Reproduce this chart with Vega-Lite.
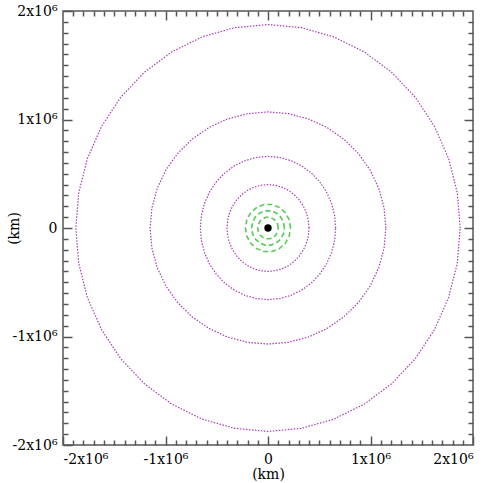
{
  "$schema": "https://vega.github.io/schema/vega-lite/v6.json",
  "width": 410,
  "height": 434,
  "autosize": {"type": "none"},
  "padding": {"left": 63, "top": 11, "right": 18, "bottom": 38},
  "background": "white",
  "config": {
    "font": "DejaVu Serif",
    "view": {"stroke": "#555555", "strokeWidth": 1.5},
    "axis": {
      "domain": false,
      "grid": false,
      "tickColor": "#555555",
      "tickWidth": 1.5,
      "labelColor": "black",
      "labelFont": "DejaVu Serif",
      "labelFontSize": 14,
      "titleFont": "DejaVu Serif",
      "titleFontSize": 14,
      "titleFontWeight": "normal",
      "titleColor": "black"
    }
  },
  "datasets": {
    "outer": [
      {"orbit": "a", "i": 0, "x": 1.875, "y": 0},
      {"orbit": "a", "i": 1, "x": 1.8465, "y": 0.3255},
      {"orbit": "a", "i": 2, "x": 1.7619, "y": 0.6413},
      {"orbit": "a", "i": 3, "x": 1.6238, "y": 0.9375},
      {"orbit": "a", "i": 4, "x": 1.4363, "y": 1.2053},
      {"orbit": "a", "i": 5, "x": 1.2053, "y": 1.4363},
      {"orbit": "a", "i": 6, "x": 0.9375, "y": 1.6238},
      {"orbit": "a", "i": 7, "x": 0.6413, "y": 1.7619},
      {"orbit": "a", "i": 8, "x": 0.3255, "y": 1.8465},
      {"orbit": "a", "i": 9, "x": 0, "y": 1.875},
      {"orbit": "a", "i": 10, "x": -0.3255, "y": 1.8465},
      {"orbit": "a", "i": 11, "x": -0.6413, "y": 1.7619},
      {"orbit": "a", "i": 12, "x": -0.9375, "y": 1.6238},
      {"orbit": "a", "i": 13, "x": -1.2053, "y": 1.4363},
      {"orbit": "a", "i": 14, "x": -1.4363, "y": 1.2053},
      {"orbit": "a", "i": 15, "x": -1.6238, "y": 0.9375},
      {"orbit": "a", "i": 16, "x": -1.7619, "y": 0.6413},
      {"orbit": "a", "i": 17, "x": -1.8465, "y": 0.3255},
      {"orbit": "a", "i": 18, "x": -1.875, "y": 0},
      {"orbit": "a", "i": 19, "x": -1.8465, "y": -0.3255},
      {"orbit": "a", "i": 20, "x": -1.7619, "y": -0.6413},
      {"orbit": "a", "i": 21, "x": -1.6238, "y": -0.9375},
      {"orbit": "a", "i": 22, "x": -1.4363, "y": -1.2053},
      {"orbit": "a", "i": 23, "x": -1.2053, "y": -1.4363},
      {"orbit": "a", "i": 24, "x": -0.9375, "y": -1.6238},
      {"orbit": "a", "i": 25, "x": -0.6413, "y": -1.7619},
      {"orbit": "a", "i": 26, "x": -0.3255, "y": -1.8465},
      {"orbit": "a", "i": 27, "x": 0, "y": -1.875},
      {"orbit": "a", "i": 28, "x": 0.3255, "y": -1.8465},
      {"orbit": "a", "i": 29, "x": 0.6413, "y": -1.7619},
      {"orbit": "a", "i": 30, "x": 0.9375, "y": -1.6238},
      {"orbit": "a", "i": 31, "x": 1.2053, "y": -1.4363},
      {"orbit": "a", "i": 32, "x": 1.4363, "y": -1.2053},
      {"orbit": "a", "i": 33, "x": 1.6238, "y": -0.9375},
      {"orbit": "a", "i": 34, "x": 1.7619, "y": -0.6413},
      {"orbit": "a", "i": 35, "x": 1.8465, "y": -0.3255},
      {"orbit": "a", "i": 36, "x": 1.875, "y": 0},
      {"orbit": "b", "i": 0, "x": 1.15, "y": 0},
      {"orbit": "b", "i": 1, "x": 1.1325, "y": 0.1858},
      {"orbit": "b", "i": 2, "x": 1.0807, "y": 0.3659},
      {"orbit": "b", "i": 3, "x": 0.9959, "y": 0.535},
      {"orbit": "b", "i": 4, "x": 0.8809, "y": 0.6878},
      {"orbit": "b", "i": 5, "x": 0.7392, "y": 0.8196},
      {"orbit": "b", "i": 6, "x": 0.575, "y": 0.9266},
      {"orbit": "b", "i": 7, "x": 0.3933, "y": 1.0055},
      {"orbit": "b", "i": 8, "x": 0.1996, "y": 1.0537},
      {"orbit": "b", "i": 9, "x": 0, "y": 1.07},
      {"orbit": "b", "i": 10, "x": -0.1996, "y": 1.0537},
      {"orbit": "b", "i": 11, "x": -0.3933, "y": 1.0055},
      {"orbit": "b", "i": 12, "x": -0.575, "y": 0.9266},
      {"orbit": "b", "i": 13, "x": -0.7392, "y": 0.8196},
      {"orbit": "b", "i": 14, "x": -0.8809, "y": 0.6878},
      {"orbit": "b", "i": 15, "x": -0.9959, "y": 0.535},
      {"orbit": "b", "i": 16, "x": -1.0807, "y": 0.3659},
      {"orbit": "b", "i": 17, "x": -1.1325, "y": 0.1858},
      {"orbit": "b", "i": 18, "x": -1.15, "y": 0},
      {"orbit": "b", "i": 19, "x": -1.1325, "y": -0.1858},
      {"orbit": "b", "i": 20, "x": -1.0807, "y": -0.3659},
      {"orbit": "b", "i": 21, "x": -0.9959, "y": -0.535},
      {"orbit": "b", "i": 22, "x": -0.8809, "y": -0.6878},
      {"orbit": "b", "i": 23, "x": -0.7392, "y": -0.8196},
      {"orbit": "b", "i": 24, "x": -0.575, "y": -0.9266},
      {"orbit": "b", "i": 25, "x": -0.3933, "y": -1.0055},
      {"orbit": "b", "i": 26, "x": -0.1996, "y": -1.0537},
      {"orbit": "b", "i": 27, "x": 0, "y": -1.07},
      {"orbit": "b", "i": 28, "x": 0.1996, "y": -1.0537},
      {"orbit": "b", "i": 29, "x": 0.3933, "y": -1.0055},
      {"orbit": "b", "i": 30, "x": 0.575, "y": -0.9266},
      {"orbit": "b", "i": 31, "x": 0.7392, "y": -0.8196},
      {"orbit": "b", "i": 32, "x": 0.8809, "y": -0.6878},
      {"orbit": "b", "i": 33, "x": 0.9959, "y": -0.535},
      {"orbit": "b", "i": 34, "x": 1.0807, "y": -0.3659},
      {"orbit": "b", "i": 35, "x": 1.1325, "y": -0.1858},
      {"orbit": "b", "i": 36, "x": 1.15, "y": 0}
    ],
    "inner": [
      {"orbit": "c", "i": 0, "x": 0.66, "y": 0},
      {"orbit": "c", "i": 1, "x": 0.65, "y": 0.1146},
      {"orbit": "c", "i": 2, "x": 0.6202, "y": 0.2257},
      {"orbit": "c", "i": 3, "x": 0.5716, "y": 0.33},
      {"orbit": "c", "i": 4, "x": 0.5056, "y": 0.4242},
      {"orbit": "c", "i": 5, "x": 0.4242, "y": 0.5056},
      {"orbit": "c", "i": 6, "x": 0.33, "y": 0.5716},
      {"orbit": "c", "i": 7, "x": 0.2257, "y": 0.6202},
      {"orbit": "c", "i": 8, "x": 0.1146, "y": 0.65},
      {"orbit": "c", "i": 9, "x": 0, "y": 0.66},
      {"orbit": "c", "i": 10, "x": -0.1146, "y": 0.65},
      {"orbit": "c", "i": 11, "x": -0.2257, "y": 0.6202},
      {"orbit": "c", "i": 12, "x": -0.33, "y": 0.5716},
      {"orbit": "c", "i": 13, "x": -0.4242, "y": 0.5056},
      {"orbit": "c", "i": 14, "x": -0.5056, "y": 0.4242},
      {"orbit": "c", "i": 15, "x": -0.5716, "y": 0.33},
      {"orbit": "c", "i": 16, "x": -0.6202, "y": 0.2257},
      {"orbit": "c", "i": 17, "x": -0.65, "y": 0.1146},
      {"orbit": "c", "i": 18, "x": -0.66, "y": 0},
      {"orbit": "c", "i": 19, "x": -0.65, "y": -0.1146},
      {"orbit": "c", "i": 20, "x": -0.6202, "y": -0.2257},
      {"orbit": "c", "i": 21, "x": -0.5716, "y": -0.33},
      {"orbit": "c", "i": 22, "x": -0.5056, "y": -0.4242},
      {"orbit": "c", "i": 23, "x": -0.4242, "y": -0.5056},
      {"orbit": "c", "i": 24, "x": -0.33, "y": -0.5716},
      {"orbit": "c", "i": 25, "x": -0.2257, "y": -0.6202},
      {"orbit": "c", "i": 26, "x": -0.1146, "y": -0.65},
      {"orbit": "c", "i": 27, "x": 0, "y": -0.66},
      {"orbit": "c", "i": 28, "x": 0.1146, "y": -0.65},
      {"orbit": "c", "i": 29, "x": 0.2257, "y": -0.6202},
      {"orbit": "c", "i": 30, "x": 0.33, "y": -0.5716},
      {"orbit": "c", "i": 31, "x": 0.4242, "y": -0.5056},
      {"orbit": "c", "i": 32, "x": 0.5056, "y": -0.4242},
      {"orbit": "c", "i": 33, "x": 0.5716, "y": -0.33},
      {"orbit": "c", "i": 34, "x": 0.6202, "y": -0.2257},
      {"orbit": "c", "i": 35, "x": 0.65, "y": -0.1146},
      {"orbit": "c", "i": 36, "x": 0.66, "y": 0},
      {"orbit": "d", "i": 0, "x": 0.4, "y": 0},
      {"orbit": "d", "i": 1, "x": 0.3939, "y": 0.0694},
      {"orbit": "d", "i": 2, "x": 0.3759, "y": 0.1368},
      {"orbit": "d", "i": 3, "x": 0.3464, "y": 0.2},
      {"orbit": "d", "i": 4, "x": 0.3064, "y": 0.2571},
      {"orbit": "d", "i": 5, "x": 0.2571, "y": 0.3064},
      {"orbit": "d", "i": 6, "x": 0.2, "y": 0.3464},
      {"orbit": "d", "i": 7, "x": 0.1368, "y": 0.3759},
      {"orbit": "d", "i": 8, "x": 0.0694, "y": 0.3939},
      {"orbit": "d", "i": 9, "x": 0, "y": 0.4},
      {"orbit": "d", "i": 10, "x": -0.0694, "y": 0.3939},
      {"orbit": "d", "i": 11, "x": -0.1368, "y": 0.3759},
      {"orbit": "d", "i": 12, "x": -0.2, "y": 0.3464},
      {"orbit": "d", "i": 13, "x": -0.2571, "y": 0.3064},
      {"orbit": "d", "i": 14, "x": -0.3064, "y": 0.2571},
      {"orbit": "d", "i": 15, "x": -0.3464, "y": 0.2},
      {"orbit": "d", "i": 16, "x": -0.3759, "y": 0.1368},
      {"orbit": "d", "i": 17, "x": -0.3939, "y": 0.0694},
      {"orbit": "d", "i": 18, "x": -0.4, "y": 0},
      {"orbit": "d", "i": 19, "x": -0.3939, "y": -0.0694},
      {"orbit": "d", "i": 20, "x": -0.3759, "y": -0.1368},
      {"orbit": "d", "i": 21, "x": -0.3464, "y": -0.2},
      {"orbit": "d", "i": 22, "x": -0.3064, "y": -0.2571},
      {"orbit": "d", "i": 23, "x": -0.2571, "y": -0.3064},
      {"orbit": "d", "i": 24, "x": -0.2, "y": -0.3464},
      {"orbit": "d", "i": 25, "x": -0.1368, "y": -0.3759},
      {"orbit": "d", "i": 26, "x": -0.0694, "y": -0.3939},
      {"orbit": "d", "i": 27, "x": 0, "y": -0.4},
      {"orbit": "d", "i": 28, "x": 0.0694, "y": -0.3939},
      {"orbit": "d", "i": 29, "x": 0.1368, "y": -0.3759},
      {"orbit": "d", "i": 30, "x": 0.2, "y": -0.3464},
      {"orbit": "d", "i": 31, "x": 0.2571, "y": -0.3064},
      {"orbit": "d", "i": 32, "x": 0.3064, "y": -0.2571},
      {"orbit": "d", "i": 33, "x": 0.3464, "y": -0.2},
      {"orbit": "d", "i": 34, "x": 0.3759, "y": -0.1368},
      {"orbit": "d", "i": 35, "x": 0.3939, "y": -0.0694},
      {"orbit": "d", "i": 36, "x": 0.4, "y": 0}
    ],
    "moons": [
      {"orbit": "e", "i": 0, "x": 0.22, "y": 0},
      {"orbit": "e", "i": 2, "x": 0.2067, "y": 0.0752},
      {"orbit": "e", "i": 4, "x": 0.1685, "y": 0.1414},
      {"orbit": "e", "i": 6, "x": 0.11, "y": 0.1905},
      {"orbit": "e", "i": 8, "x": 0.0382, "y": 0.2167},
      {"orbit": "e", "i": 10, "x": -0.0382, "y": 0.2167},
      {"orbit": "e", "i": 12, "x": -0.11, "y": 0.1905},
      {"orbit": "e", "i": 14, "x": -0.1685, "y": 0.1414},
      {"orbit": "e", "i": 16, "x": -0.2067, "y": 0.0752},
      {"orbit": "e", "i": 18, "x": -0.22, "y": 0},
      {"orbit": "e", "i": 20, "x": -0.2067, "y": -0.0752},
      {"orbit": "e", "i": 22, "x": -0.1685, "y": -0.1414},
      {"orbit": "e", "i": 24, "x": -0.11, "y": -0.1905},
      {"orbit": "e", "i": 26, "x": -0.0382, "y": -0.2167},
      {"orbit": "e", "i": 28, "x": 0.0382, "y": -0.2167},
      {"orbit": "e", "i": 30, "x": 0.11, "y": -0.1905},
      {"orbit": "e", "i": 32, "x": 0.1685, "y": -0.1414},
      {"orbit": "e", "i": 34, "x": 0.2067, "y": -0.0752},
      {"orbit": "e", "i": 36, "x": 0.22, "y": 0},
      {"orbit": "f", "i": 0, "x": 0.16, "y": 0},
      {"orbit": "f", "i": 2, "x": 0.1504, "y": 0.0547},
      {"orbit": "f", "i": 4, "x": 0.1226, "y": 0.1028},
      {"orbit": "f", "i": 6, "x": 0.08, "y": 0.1386},
      {"orbit": "f", "i": 8, "x": 0.0278, "y": 0.1576},
      {"orbit": "f", "i": 10, "x": -0.0278, "y": 0.1576},
      {"orbit": "f", "i": 12, "x": -0.08, "y": 0.1386},
      {"orbit": "f", "i": 14, "x": -0.1226, "y": 0.1028},
      {"orbit": "f", "i": 16, "x": -0.1504, "y": 0.0547},
      {"orbit": "f", "i": 18, "x": -0.16, "y": 0},
      {"orbit": "f", "i": 20, "x": -0.1504, "y": -0.0547},
      {"orbit": "f", "i": 22, "x": -0.1226, "y": -0.1028},
      {"orbit": "f", "i": 24, "x": -0.08, "y": -0.1386},
      {"orbit": "f", "i": 26, "x": -0.0278, "y": -0.1576},
      {"orbit": "f", "i": 28, "x": 0.0278, "y": -0.1576},
      {"orbit": "f", "i": 30, "x": 0.08, "y": -0.1386},
      {"orbit": "f", "i": 32, "x": 0.1226, "y": -0.1028},
      {"orbit": "f", "i": 34, "x": 0.1504, "y": -0.0547},
      {"orbit": "f", "i": 36, "x": 0.16, "y": 0},
      {"orbit": "g", "i": 0, "x": 0.1, "y": 0},
      {"orbit": "g", "i": 2, "x": 0.094, "y": 0.0342},
      {"orbit": "g", "i": 4, "x": 0.0766, "y": 0.0643},
      {"orbit": "g", "i": 6, "x": 0.05, "y": 0.0866},
      {"orbit": "g", "i": 8, "x": 0.0174, "y": 0.0985},
      {"orbit": "g", "i": 10, "x": -0.0174, "y": 0.0985},
      {"orbit": "g", "i": 12, "x": -0.05, "y": 0.0866},
      {"orbit": "g", "i": 14, "x": -0.0766, "y": 0.0643},
      {"orbit": "g", "i": 16, "x": -0.094, "y": 0.0342},
      {"orbit": "g", "i": 18, "x": -0.1, "y": 0},
      {"orbit": "g", "i": 20, "x": -0.094, "y": -0.0342},
      {"orbit": "g", "i": 22, "x": -0.0766, "y": -0.0643},
      {"orbit": "g", "i": 24, "x": -0.05, "y": -0.0866},
      {"orbit": "g", "i": 26, "x": -0.0174, "y": -0.0985},
      {"orbit": "g", "i": 28, "x": 0.0174, "y": -0.0985},
      {"orbit": "g", "i": 30, "x": 0.05, "y": -0.0866},
      {"orbit": "g", "i": 32, "x": 0.0766, "y": -0.0643},
      {"orbit": "g", "i": 34, "x": 0.094, "y": -0.0342},
      {"orbit": "g", "i": 36, "x": 0.1, "y": 0}
    ],
    "centre": [
      {"x": 0, "y": 0}
    ]
  },
  "resolve": {"axis": {"x": "independent", "y": "independent"}},
  "layer": [
    {
      "data": {"name": "outer"},
      "mark": {"type": "line", "color": "#a83cb8", "strokeWidth": 1.2, "strokeDash": [1.5, 1.5], "clip": true},
      "encoding": {
        "x": {
          "field": "x", "type": "quantitative",
          "scale": {"domain": [-2, 2], "nice": false, "zero": false},
          "axis": {
            "orient": "bottom", "values": [-2, -1, 0, 1, 2], "tickSize": -9,
            "labelPadding": 16,
            "labelExpr": "datum.value == 0 ? '0' : datum.value + 'x10⁶'",
            "title": "(km)",
            "titleBaseline": "middle", "titleY": 29
          }
        },
        "y": {
          "field": "y", "type": "quantitative",
          "scale": {"domain": [-2, 2], "nice": false, "zero": false},
          "axis": {
            "orient": "left", "values": [-2, -1, 0, 1, 2], "tickSize": -9,
            "labelPadding": 15,
            "labelExpr": "datum.value == 0 ? '0' : datum.value + 'x10⁶'",
            "title": "(km)",
            "titleBaseline": "middle", "titleX": -49, "titleY": 217
          }
        },
        "detail": {"field": "orbit"},
        "order": {"field": "i", "type": "quantitative"}
      }
    },
    {
      "data": {"name": "inner"},
      "mark": {"type": "line", "color": "#a83cb8", "strokeWidth": 1.2, "strokeDash": [1.5, 1.5]},
      "encoding": {
        "x": {
          "field": "x", "type": "quantitative",
          "axis": {
            "orient": "bottom", "tickSize": -5, "labels": false, "title": null,
            "values": [-1.9, -1.8, -1.7, -1.6, -1.5, -1.4, -1.3, -1.2, -1.1, -0.9, -0.8, -0.7, -0.6, -0.5, -0.4, -0.3, -0.2, -0.1, 0.1, 0.2, 0.3, 0.4, 0.5, 0.6, 0.7, 0.8, 0.9, 1.1, 1.2, 1.3, 1.4, 1.5, 1.6, 1.7, 1.8, 1.9]
          }
        },
        "y": {
          "field": "y", "type": "quantitative",
          "axis": {
            "orient": "left", "tickSize": -5, "labels": false, "title": null,
            "values": [-1.9, -1.8, -1.7, -1.6, -1.5, -1.4, -1.3, -1.2, -1.1, -0.9, -0.8, -0.7, -0.6, -0.5, -0.4, -0.3, -0.2, -0.1, 0.1, 0.2, 0.3, 0.4, 0.5, 0.6, 0.7, 0.8, 0.9, 1.1, 1.2, 1.3, 1.4, 1.5, 1.6, 1.7, 1.8, 1.9]
          }
        },
        "detail": {"field": "orbit"},
        "order": {"field": "i", "type": "quantitative"}
      }
    },
    {
      "data": {"name": "moons"},
      "mark": {"type": "line", "color": "#55cc55", "strokeWidth": 1.6, "strokeDash": [5, 3]},
      "encoding": {
        "x": {
          "field": "x", "type": "quantitative",
          "axis": {"orient": "top", "values": [-1, 0, 1], "tickSize": -9, "labels": false, "title": null}
        },
        "y": {
          "field": "y", "type": "quantitative",
          "axis": {"orient": "right", "values": [-1, 0, 1], "tickSize": -9, "labels": false, "title": null}
        },
        "detail": {"field": "orbit"},
        "order": {"field": "i", "type": "quantitative"}
      }
    },
    {
      "data": {"name": "centre"},
      "mark": {"type": "point", "filled": true, "color": "black", "size": 55, "opacity": 1},
      "encoding": {
        "x": {
          "field": "x", "type": "quantitative",
          "axis": {
            "orient": "top", "tickSize": -5, "labels": false, "title": null,
            "values": [-1.9, -1.8, -1.7, -1.6, -1.5, -1.4, -1.3, -1.2, -1.1, -0.9, -0.8, -0.7, -0.6, -0.5, -0.4, -0.3, -0.2, -0.1, 0.1, 0.2, 0.3, 0.4, 0.5, 0.6, 0.7, 0.8, 0.9, 1.1, 1.2, 1.3, 1.4, 1.5, 1.6, 1.7, 1.8, 1.9]
          }
        },
        "y": {
          "field": "y", "type": "quantitative",
          "axis": {
            "orient": "right", "tickSize": -5, "labels": false, "title": null,
            "values": [-1.9, -1.8, -1.7, -1.6, -1.5, -1.4, -1.3, -1.2, -1.1, -0.9, -0.8, -0.7, -0.6, -0.5, -0.4, -0.3, -0.2, -0.1, 0.1, 0.2, 0.3, 0.4, 0.5, 0.6, 0.7, 0.8, 0.9, 1.1, 1.2, 1.3, 1.4, 1.5, 1.6, 1.7, 1.8, 1.9]
          }
        }
      }
    }
  ]
}
